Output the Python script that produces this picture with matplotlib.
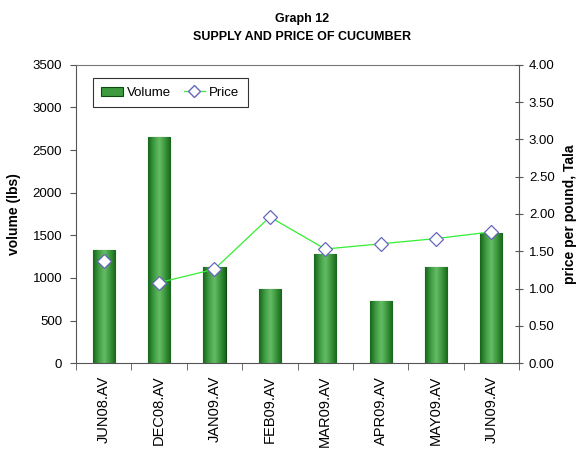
import numpy as np
import matplotlib
matplotlib.use("Agg")
import matplotlib.pyplot as plt
from matplotlib.colors import LinearSegmentedColormap

plt.rcParams['font.family'] = ['Liberation Sans', 'DejaVu Sans']

# data
months = ["JUN08.AV", "DEC08.AV", "JAN09.AV", "FEB09.AV",
          "MAR09.AV", "APR09.AV", "MAY09.AV", "JUN09.AV"]
volume = [1325, 2650, 1130, 865, 1280, 730, 1130, 1530]
price = [1.37, 1.08, 1.26, 1.96, 1.53, 1.60, 1.67, 1.76]

fig = plt.figure(figsize=(5.8, 4.5), dpi=100)
ax = fig.add_axes([0.131, 0.193, 0.764, 0.663])
x = np.arange(len(months))
bw = 0.4

# bars with a dark-light-dark green gradient
cmap = LinearSegmentedColormap.from_list("g", ["#17661a", "#3f9c42", "#66bc66", "#3a963c", "#17661a"])
grad = np.linspace(0, 1, 64).reshape(1, -1)
bars = ax.bar(x, volume, width=bw, color="#3e9a3e", edgecolor="#0f4a0f", linewidth=0.8, zorder=2,
              label="Volume")
for b in bars:
    bx, by = b.get_x(), b.get_y()
    im = ax.imshow(grad, cmap=cmap, aspect="auto", extent=[bx, bx + b.get_width(), by, by + b.get_height()],
                   zorder=2)
    im.set_clip_path(b)

ax.set_xlim(-0.5, len(months) - 0.5)
ax.set_ylim(0, 3500)
ax.set_yticks(range(0, 3501, 500))
ax.set_xticks(x)
ax.set_xticklabels(months, rotation=90, fontsize=10.5)
ax.set_xticks(np.arange(-0.5, len(months), 1), minor=True)
ax.tick_params(axis="x", which="major", length=0, pad=9)
ax.tick_params(axis="x", which="minor", length=5, color="#555555")
ax.tick_params(axis="y", length=4, pad=6, color="#555555", labelsize=9.5)
ax.set_ylabel("volume (lbs)", fontsize=10, fontweight="bold", labelpad=8)
for s in ["left", "bottom"]:
    ax.spines[s].set_color("#555555")
ax.spines["top"].set_color("#777777")
ax.spines["right"].set_visible(False)

ax2 = ax.twinx()
ax2.set_ylim(0, 4)
ax2.set_yticks(np.arange(0, 4.01, 0.5))
ax2.set_yticklabels([f"{v:.2f}" for v in np.arange(0, 4.01, 0.5)])
ax2.tick_params(axis="y", direction="inout", length=6, pad=4, color="#555555", labelsize=9.5)
ax2.spines["right"].set_color("#555555")
ax2.spines["top"].set_visible(False)
ax2.spines["left"].set_visible(False)
ax2.spines["bottom"].set_visible(False)
ax2.set_ylabel("price per pound, Tala", fontsize=10, fontweight="bold", labelpad=6)

# price line: gap after the first month
ax2.plot(x[1:], price[1:], color="#33ee33", linewidth=0.9, zorder=3)
ax2.plot(x, price, linestyle="none", marker="D", markersize=7, markerfacecolor="white",
         markeredgecolor="#6666bb", markeredgewidth=0.9, zorder=4)
ln, = ax2.plot([], [], color="#33ee33", linewidth=0.9, marker="D", markersize=6,
               markerfacecolor="white", markeredgecolor="#6666bb", label="Price")

leg = ax.legend([bars, ln], ["Volume", "Price"], loc="upper left", bbox_to_anchor=(0.038, 0.956),
                ncol=2, fontsize=9.5, frameon=True, fancybox=False, edgecolor="black",
                handlelength=1.6, handletextpad=0.3, columnspacing=1.0, borderpad=0.65,
                borderaxespad=0)
leg.get_frame().set_linewidth(0.8)
leg.set_zorder(5)

fig.text(0.52, 0.958, "Graph 12", ha="center", va="center", fontsize=9, fontweight="bold")
fig.text(0.52, 0.917, "SUPPLY AND PRICE OF CUCUMBER", ha="center", va="center", fontsize=9,
         fontweight="bold")

fig.savefig("out.png", dpi=100)
